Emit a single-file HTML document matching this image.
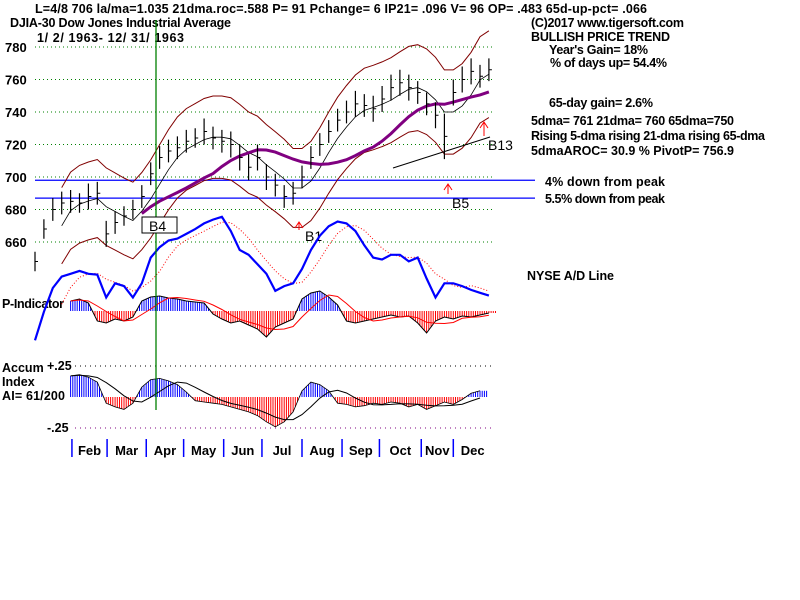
<!DOCTYPE html>
<html><head><meta charset="utf-8"><style>
html,body{margin:0;padding:0;background:#fff}
svg{display:block;font-family:"Liberation Sans",sans-serif;font-weight:bold}
</style></head><body>
<svg id="c" width="800" height="600" viewBox="0 0 800 600">
<rect width="800" height="600" fill="#fff"/>
<g font-size="12.5" fill="#000">
<text x="35" y="13" textLength="612">L=4/8  706  la/ma=1.035 21dma.roc=.588 P=  91 Pchange=  6 IP21= .096 V= 96 OP= .483 65d-up-pct= .066</text>
<text x="10" y="27" textLength="221">DJIA-30  Dow Jones Industrial Average</text>
<text x="37" y="42" textLength="147">1/ 2/ 1963- 12/ 31/ 1963</text>
<text x="531" y="27" textLength="153">(C)2017 www.tigersoft.com</text>
<text x="531" y="41" textLength="139">BULLISH PRICE TREND</text>
<text x="549" y="54" textLength="99">Year's Gain= 18%</text>
<text x="550" y="67" textLength="117">% of days up= 54.4%</text>
<text x="549" y="107" textLength="104">65-day gain= 2.6%</text>
<text x="531" y="125" textLength="203">5dma= 761 21dma= 760 65dma=750</text>
<text x="531" y="140" textLength="234">Rising 5-dma  rising 21-dma  rising 65-dma</text>
<text x="531" y="155" textLength="203">5dmaAROC= 30.9 %  PivotP= 756.9</text>
<text x="545" y="186" textLength="120">4% down from peak</text>
<text x="545" y="203" textLength="120">5.5% down from peak</text>
<text x="527" y="280" textLength="87">NYSE A/D Line</text>
<text x="2" y="308" textLength="62">P-Indicator</text>
<text x="2" y="372">Accum</text>
<text x="2" y="386">Index</text>
<text x="2" y="400" textLength="63">AI= 61/200</text>
<text x="47" y="370">+.25</text>
<text x="47" y="432">-.25</text>
</g>
<g font-size="14" font-weight="normal" fill="#000">
<text x="488" y="150">B13</text>
<text x="452" y="208">B5</text>
<text x="305" y="241">B1</text>
</g>
<g id="plot"></g>
<rect x="142" y="217" width="35" height="16" fill="#fff" stroke="#000"/>
<text x="149" y="231" font-size="14" font-weight="normal">B4</text>
</svg>
<script>
// ---- data (weekly, 1963) ----
const months = ["Feb","Mar","Apr","May","Jun","Jul","Aug","Sep","Oct","Nov","Dec"];
const monthStartWeek = [4.15,8.1,12.5,16.7,21.2,25.5,30,34.5,38.7,43.4,47];
const priceTicks = [780,760,740,720,700,680,660];
const closes = [648,668,680,684, 685,684,688,690, 665,672,676,680, 688,702,712,716,718, 722,724,728,724, 722,720,712,706, 712,700,695,688,690, 700,712,720,728, 735,740,745,744, 742,748,755,758,755, 752,745,738,725, 752,760,765,762,766];
const halfRange = [6,6,7,7, 7,6,8,7, 8,7,6,6, 7,7,7,7,7, 7,6,8,7, 7,8,8,8, 8,8,7,7,7, 7,7,7,7, 7,7,8,7, 8,8,8,8,8, 7,7,8,14, 8,8,8,7,7];
const adLine = [5,35,60,72, 75,78,75,74, 50,65,62,50, 65,92,103,110,112, 117,122,128,132, 135,120,100,95, 85,75,57,62,65, 80,100,115,125, 130,128,120,105, 92,90,95,95,88, 92,70,50,65, 65,62,58,55,52];
const pIndicator = [null,null,null,null, 10,12,8,-10, -12,-8,-10,-6, 10,14,15,13,12, 10,9,8,-3, -8,-12,-10,-14, -18,-26,-16,-12,-8, 12,18,20,14, 6,-10,-12,-10, -8,-6,-4,-6, -5,-12,-22,-10, -6,-8,-5,-6,-4,-2];
const accum = [null,null,null,null, 0.17,0.18,0.16,0.12, -0.05,-0.08,-0.1,-0.05, 0.08,0.14,0.15,0.13,0.1, 0.04,-0.03,-0.04,-0.05, -0.06,-0.08,-0.1,-0.12, -0.15,-0.2,-0.24,-0.2,-0.12, 0.05,0.12,0.1,0.05, -0.05,-0.06,-0.08,-0.07, -0.05,-0.06,-0.04,-0.05, -0.08,-0.06,-0.1,-0.07, -0.04,-0.06,-0.02,0.03,0.05];
// ---- axes ----
const NS="http://www.w3.org/2000/svg";
const g=document.getElementById('plot');
const xW=i=>35+i*8.9;
const yP=v=>47+(780-v)*1.625;
const yAD=v=>345-v*0.95;
const yPI=v=>311-v;
const yAI=v=>397-v*124;
function mk(t,a){const e=document.createElementNS(NS,t);for(const k in a)e.setAttribute(k,a[k]);g.appendChild(e);return e;}
function poly(pts){return pts.filter(p=>p).map(p=>p[0].toFixed(1)+','+p[1].toFixed(1)).join(' ');}
function ma(arr,n){return arr.map((v,i)=>{if(i<n-1||v==null)return null;let s=0,c=0;for(let j=i-n+1;j<=i;j++){if(arr[j]!=null){s+=arr[j];c++;}}return s/c;});}
// grid
priceTicks.forEach(v=>{
  let e=mk('line',{x1:35,x2:492,y1:yP(v),y2:yP(v),stroke:'#008000','stroke-dasharray':'1,3'});
  
  
  let t=mk('text',{x:5,y:yP(v)+5,'font-size':13});t.textContent=v;
  
  
});
[[0.25,'#000'],[-0.25,'#800080']].forEach(([v,c])=>{
  let e=mk('line',{x1:75,x2:492,y1:yAI(v),y2:yAI(v),stroke:c,'stroke-dasharray':'1,4'});
  
  
});
// reference lines
[698,687].forEach(v=>{
  let e=mk('line',{x1:35,x2:535,y1:yP(v),y2:yP(v),stroke:'#0000ff','stroke-width':1.3});
  
  
});
// bands & mas
const m21=ma(closes,4), m65=ma(closes,13);
const up=m21.map(v=>v==null?null:v*1.035), lo=m21.map(v=>v==null?null:v*0.965);
[[up,'#800000',1,'upper-band'],[lo,'#800000',1,'lower-band'],[m21,'#000',0.8,'ma21-line'],[m65,'#800080',3,'ma65-line']].forEach(([a,c,w,n])=>{
  let e=mk('polyline',{points:poly(a.map((v,i)=>v==null?null:[xW(i),yP(v)])),fill:'none',stroke:c,'stroke-width':w});
  
  
});
// price bars
closes.forEach((c,i)=>{
  const x=xW(i);
  let e=mk('line',{x1:x,x2:x,y1:yP(c+halfRange[i]),y2:yP(c-halfRange[i]),stroke:'#000','stroke-width':1.2});
  
  
  let t=mk('line',{x1:x,x2:x+3,y1:yP(c),y2:yP(c),stroke:'#000'});
  
  
});
// A/D line
let adm=ma(adLine,4);
let e1=mk('polyline',{points:poly(adm.map((v,i)=>v==null?null:[xW(i),yAD(v)])),fill:'none',stroke:'#ff0000','stroke-dasharray':'1,2'});


let e2=mk('polyline',{points:poly(adLine.map((v,i)=>[xW(i),yAD(v)])),fill:'none',stroke:'#0000ff','stroke-width':2.2});


// P-indicator histogram
pIndicator.forEach((v,i)=>{
  if(v==null)return;
  for(let k=0;k<4;k++){
    const nxt=pIndicator[i+1]!=null?pIndicator[i+1]:v;
    const vv=v+(nxt-v)*k/4;
    const x=xW(i)+k*2.2;
    let b=mk('line',{x1:x,x2:x,y1:yPI(0),y2:yPI(vv),stroke:vv>=0?'#0000ff':'#ff0000'});
    
    
  }
});
let e3=mk('polyline',{points:poly(pIndicator.map((v,i)=>v==null?null:[xW(i),yPI(v)])),fill:'none',stroke:'#000'});


let e4=mk('polyline',{points:poly(ma(pIndicator,4).map((v,i)=>v==null?null:[xW(i),yPI(v)])),fill:'none',stroke:'#ff0000'});


// Accum histogram
accum.forEach((v,i)=>{
  if(v==null)return;
  for(let k=0;k<4;k++){
    const nxt=accum[i+1]!=null?accum[i+1]:v;
    const vv=v+(nxt-v)*k/4;
    const x=xW(i)+k*2.2;
    let b=mk('line',{x1:x,x2:x,y1:yAI(0),y2:yAI(vv),stroke:vv>=0?'#0000ff':'#ff0000'});
    
    
  }
});
let e5=mk('polyline',{points:poly(accum.map((v,i)=>v==null?null:[xW(i),yAI(v)])),fill:'none',stroke:'#000','stroke-width':0.8});


let e6=mk('polyline',{points:poly(ma(accum,5).map((v,i)=>v==null?null:[xW(i),yAI(v)])),fill:'none',stroke:'#000'});


// month axis
months.forEach((m,k)=>{
  const x=xW(monthStartWeek[k]);
  const xn=k+1<months.length?xW(monthStartWeek[k+1]):492;
  let t=mk('line',{x1:x,x2:x,y1:439,y2:457,stroke:'#0000ff','stroke-width':1.5});
  
  
  let l=mk('text',{x:(x+xn)/2,y:455,'font-size':13,'text-anchor':'middle'});
  l.textContent=m;
  
  
});
// signals / green line
let gl=mk('line',{x1:156,x2:156,y1:20,y2:410,stroke:'#008000','stroke-width':1.3});


[[299,230,222],[448,194,184],[484,136,122]].forEach(([x,y1,y2])=>{
  let a=mk('path',{d:`M${x},${y1}V${y2}M${x-4},${y2+6}L${x},${y2}L${x+4},${y2+6}`,stroke:'#ff0000',fill:'none'});
  
  
});
let tl=mk('line',{x1:393,y1:168,x2:490,y2:137,stroke:'#000'});


</script>
</body></html>
